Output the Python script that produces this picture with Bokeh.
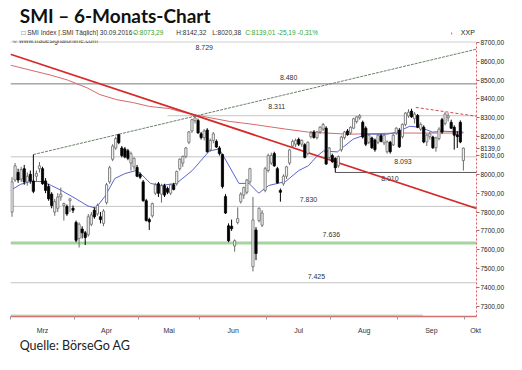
from bokeh.plotting import figure
from bokeh.layouts import column
from bokeh.models import (ColumnDataSource, Range1d, LinearAxis, FixedTicker,
                          CustomJSTickFormatter, Label, Span)
from bokeh.core.properties import value
from bokeh.embed import file_html
from bokeh.resources import INLINE

# ---------------- data ----------------
opens = [7800, 7970, 8010, 7975, 8030, 7960, 8000, 7965, 7990, 8030,
         8030, 7965, 7935, 7895, 7800, 7820, 7880, 7835, 7830, 7860,
         7820, 7745, 7660, 7710, 7690, 7680, 7735, 7810, 7790, 7775,
         7740, 7850, 7960, 8080, 8140, 8210, 8140, 8135, 8125, 8060,
         8040, 8037, 8000, 7960, 7860, 7760, 7780, 7900, 7950, 7895,
         7940, 7925, 7900, 7945, 7950, 8030, 8060, 8095, 8170, 8230,
         8285, 8285, 8215, 8195, 8235, 8130, 8180, 8175, 8140, 8105,
         7882, 7727, 7725, 7620, 7745, 7855, 7890, 7905, 7960, 7510,
         7705, 7755, 7730, 7915, 8020, 8060, 8110, 8030, 7915, 7950,
         7990, 8060, 8150, 8160, 8185, 8160, 8157, 8110, 8200, 8225,
         8195, 8225, 8240, 8245, 8090, 8100, 8085, 8045, 8130, 8195,
         8230, 8220, 8245, 8280, 8300, 8276, 8245, 8170, 8193, 8182,
         8170, 8205, 8167, 8120, 8170, 8157, 8219, 8234, 8200, 8265,
         8310, 8335, 8295, 8312, 8240, 8250, 8172, 8200, 8198, 8141,
         8190, 8290, 8270, 8300, 8276, 8250, 8210, 8276, 8073.29]
highs = [7985, 8060, 8030, 8040, 8050, 8010, 8020, 8105, 8020, 8065,
         8040, 7980, 7950, 7905, 7870, 7900, 7930, 7850, 7840, 7875,
         7835, 7755, 7745, 7725, 7700, 7790, 7800, 7825, 7845, 7800,
         7815, 7955, 8045, 8160, 8200, 8215, 8150, 8145, 8135, 8120,
         8090, 8050, 8010, 7970, 7870, 7770, 7850, 7955, 7960, 7950,
         7950, 7935, 7950, 7955, 8020, 8085, 8100, 8145, 8230, 8295,
         8320, 8295, 8225, 8240, 8245, 8190, 8225, 8185, 8150, 8110,
         7895, 7740, 7760, 7655, 7825, 7905, 7935, 7975, 8035, 7880,
         7720, 7825, 7810, 8040, 8110, 8115, 8120, 8040, 7925, 8000,
         8045, 8135, 8185, 8190, 8195, 8185, 8165, 8175, 8230, 8235,
         8230, 8255, 8272, 8255, 8145, 8110, 8090, 8100, 8205, 8230,
         8240, 8255, 8300, 8310, 8320, 8285, 8255, 8215, 8200, 8190,
         8215, 8215, 8215, 8180, 8178, 8215, 8250, 8245, 8270, 8330,
         8345, 8348, 8330, 8320, 8275, 8260, 8215, 8225, 8205, 8200,
         8250, 8300, 8330, 8325, 8290, 8260, 8230, 8286, 8142.32]
lows = [7775, 7960, 7955, 7960, 7945, 7940, 7950, 7900, 7960, 8010,
        7945, 7900, 7860, 7820, 7780, 7800, 7860, 7755, 7780, 7800,
        7795, 7640, 7612, 7660, 7625, 7670, 7725, 7765, 7780, 7740,
        7725, 7840, 7950, 8070, 8130, 8160, 8090, 8085, 8075, 8020,
        8025, 7985, 7975, 7855, 7750, 7705, 7770, 7890, 7880, 7850,
        7880, 7895, 7890, 7915, 7940, 8020, 8040, 8085, 8160, 8220,
        8270, 8215, 8185, 8180, 8115, 8120, 8165, 8140, 8100, 7925,
        7790, 7640, 7700, 7590, 7735, 7845, 7870, 7895, 7950, 7485,
        7545, 7745, 7720, 7905, 8010, 8050, 8040, 7950, 7855, 7940,
        7975, 8050, 8140, 8145, 8150, 8145, 8085, 8100, 8190, 8190,
        8185, 8215, 8230, 8050, 8080, 8060, 8010, 8035, 8120, 8185,
        8205, 8210, 8240, 8270, 8290, 8190, 8150, 8160, 8135, 8120,
        8160, 8170, 8155, 8110, 8110, 8150, 8210, 8140, 8190, 8255,
        8300, 8300, 8270, 8245, 8230, 8165, 8150, 8185, 8135, 8120,
        8180, 8215, 8260, 8280, 8240, 8131, 8140, 8165, 8020.38]
closes = [7960, 8045, 7970, 8025, 7960, 7990, 7965, 7910, 8005, 8045,
          7950, 7915, 7870, 7835, 7855, 7880, 7895, 7845, 7790, 7870,
          7810, 7650, 7735, 7690, 7665, 7775, 7785, 7775, 7835, 7760,
          7805, 7945, 8035, 8150, 8190, 8168, 8100, 8092, 8085, 8110,
          8085, 7990, 7985, 7860, 7755, 7748, 7845, 7945, 7900, 7940,
          7890, 7905, 7945, 7920, 8015, 8080, 8095, 8140, 8225, 8290,
          8300, 8220, 8195, 8230, 8120, 8180, 8215, 8145, 8110, 7935,
          7795, 7648, 7712, 7648, 7765, 7895, 7930, 7970, 8030, 7758,
          7580, 7820, 7795, 8030, 8100, 8100, 8045, 7955, 7905, 7990,
          8040, 8130, 8175, 8180, 8160, 8180, 8090, 8170, 8220, 8195,
          8225, 8250, 8265, 8055, 8140, 8068, 8035, 8094, 8198, 8224,
          8210, 8250, 8295, 8305, 8310, 8198, 8160, 8208, 8141, 8131,
          8208, 8175, 8208, 8172, 8120, 8208, 8245, 8146, 8265, 8325,
          8330, 8305, 8320, 8250, 8265, 8172, 8208, 8215, 8141, 8193,
          8240, 8224, 8320, 8310, 8245, 8208, 8200, 8172, 8139.01]

month_names = ["Mrz", "Apr", "Mai", "Jun", "Jul", "Aug", "Sep", "Okt"]
month_first_index = [0, 21, 42, 62, 84, 105, 127, 149]

level_values = [8729, 8480, 8311, 8093, 8010, 7830, 7636, 7425]
level_texts = ["8.729", "8.480", "8.311", "8.093", "8.010", "7.830", "7.636", "7.425"]
level_start_index = [-0.5, -0.5, 51, -0.5, 106, -0.5, -0.5, -0.5]

ma_slow_index = [-0.5, 12.5, 18.1, 24.6, 28.8, 34.4, 39.6, 45.1, 51.6, 54.9,
                 62.4, 71.2, 78.7, 89.7, 97.2, 110.3, 126.5, 148]
ma_slow_values = [8579, 8527, 8501, 8459, 8423, 8396, 8381, 8360, 8349, 8334,
                  8308, 8281, 8266, 8240, 8224, 8213, 8219, 8219]

ma_fast_index = [-0.5, 2.8, 6.0, 9.6, 12.9, 16.1, 20.7, 24.9, 27.5, 30.5,
                 33.7, 37.0, 40.6, 42.2, 45.4, 48.7, 53.9, 59.1, 64.7, 67.9,
                 70.2, 74.4, 77.7, 80.9, 84.2, 89.7, 94.0, 97.2, 99.8, 102.1,
                 106.7, 108.6, 111.9, 116.4, 123.0, 126.2, 130.4, 133.7, 137.9, 141.2,
                 148]
ma_fast_values = [7915, 7947, 7962, 7962, 7941, 7915, 7873, 7832, 7821, 7884,
                  7978, 8004, 8020, 8004, 7952, 7941, 7952, 8020, 8124, 8135,
                  8072, 7952, 7952, 7900, 7941, 7962, 8020, 8046, 8093, 8124,
                  8119, 8145, 8187, 8213, 8213, 8224, 8255, 8250, 8224, 8229,
                  8224]

trend_up_index = [7, 154.9]
trend_up_values = [8105, 8674]
trend_down_index = [-0.5, 154.9]
trend_down_values = [8637, 7805]
resist_index = [132.4, 154.9]
resist_values = [8355, 8302]

axis_ticks = list(range(7300, 8800, 100))

title_text = "SMI \u2013 6-Monats-Chart"
info_texts = ["\u25a1 SMI Index [.SMI  T\u00e4glich] 30.09.2016 -", "O:8073,29", "H:8142,32",
              "L:8020,38", "C:8139,01 -25,19 -0,31%"]
source_text = "Quelle: B\u00f6rseGo AG"

W = 506
HEAD_H, MAIN_H, FOOT_H = 36, 300, 18


def bare(fig):
    fig.grid.visible = False
    fig.outline_line_color = None
    fig.background_fill_color = "white"
    fig.border_fill_color = "white"
    return fig


# ---------------- header ----------------
head = bare(figure(width=W, height=HEAD_H, output_backend="svg", toolbar_location=None,
                   x_range=Range1d(0, W), y_range=Range1d(HEAD_H, 0),
                   x_axis_location=None, y_axis_location=None, min_border=0))
head.text(x=[10], y=[15], text=[title_text], text_font=value("Lato"),
          text_font_style="bold", text_font_size="19px", text_color="#111111",
          text_baseline="middle")
info_x = [12, 133, 180, 219, 255]
info_colors = ["#333333", "#2fa82f", "#333333", "#333333", "#2fa82f"]
head.text(x=info_x, y=[31.5] * len(info_x), text=info_texts, text_color=info_colors,
          text_font=value("Liberation Sans"), text_font_size="6.5px", text_baseline="middle")
head.text(x=[489], y=[31.5], text=["XXP"], text_font=value("Liberation Sans"),
          text_font_size="7px", text_color="#222222", text_baseline="middle")
head.segment(x0=[479], x1=[479], y0=[32], y1=[HEAD_H], line_color="#e05a5a", line_dash="2 2")

# ---------------- main chart ----------------
X0, X1 = -0.5, 152.3
Y0, Y1 = 7246, 8710
p = bare(figure(width=W, height=MAIN_H, output_backend="svg", toolbar_location=None,
                x_range=Range1d(X0, X1), y_range=Range1d(Y0, Y1),
                x_axis_location=None, y_axis_location=None,
                min_border_left=10, min_border_right=27,
                min_border_top=4, min_border_bottom=16))

n = len(closes)
up = [c >= o for o, c in zip(opens, closes)]
src = ColumnDataSource(dict(
    x=list(range(n)), o=opens, h=highs, l=lows, c=closes,
    top=[max(o, c) for o, c in zip(opens, closes)],
    bot=[min(o, c) for o, c in zip(opens, closes)],
    fill=["#f4f4f4" if u else "black" for u in up],
    edge=["#6a6a6a" if u else "black" for u in up],
))

# separator line at the top of the chart
p.add_layout(Span(location=Y1 - 8, dimension="width", line_color="#cfcfcf", line_width=1))

# level lines
lvl_colors = ["#c8c8c8", "#7a7a7a", "#c4c4c4", "#c4c4c4", "#5a5a5a", "#c4c4c4", "#a6d4a0", "#c4c4c4"]
lvl_widths = [1, 1, 1, 1, 1, 1, 3, 1]
p.segment(x0=level_start_index, x1=[X1 + 3] * len(level_values),
          y0=level_values, y1=level_values, line_color=lvl_colors, line_width=lvl_widths)

# level labels
lvl_label_x = [63, 90.7, 86.8, 128.2, 123.9, 97.2, 104.7, 99.8]
lvl_label_dy = [11, -6, -9, 5, 6, -7, -8, -6]
p.text(x=lvl_label_x, y=level_values, text=level_texts, y_offset=lvl_label_dy,
       text_font=value("Liberation Sans"), text_font_size="7px", text_color="#333333",
       text_align="center", text_baseline="middle")

# bottom band
p.quad(left=[-0.5], right=[134.7], bottom=[Y0 + 1], top=[Y0 + 11],
       fill_color="#c6dcc0", line_color=None)

# moving averages
p.line(ma_slow_index, ma_slow_values, line_color="#d46a6a", line_width=1)
p.line(ma_fast_index, ma_fast_values, line_color="#5865d0", line_width=1)

# trend lines
p.line(trend_up_index, trend_up_values, line_color="#6a806a", line_width=1, line_dash="3 1")
p.line(trend_down_index, trend_down_values, line_color="#d42a2a", line_width=1.8)
p.line(resist_index, resist_values, line_color="#d44a4a", line_width=1, line_dash="3 2")

# candles
p.segment(x0="x", x1="x", y0="l", y1="h", line_color="edge", line_width=1, source=src)
p.vbar(x="x", width=0.72, top="top", bottom="bot", fill_color="fill",
       line_color="edge", line_width=0.8, source=src)

# copyright line inside the chart
p.add_layout(Label(x=2, y=276, x_units="screen", y_units="screen",
                   text="\u00a9 www.tradesignalonline.com", text_font="Liberation Sans",
                   text_font_size="6.5px", text_color="#444444", text_baseline="middle"))

# x axis (months)
bounds = [s - 0.5 for s in month_first_index]
centers = [(month_first_index[k] + month_first_index[k + 1] - 1) / 2 for k in range(7)]
centers.append(month_first_index[7] + 3)
xaxis = LinearAxis(ticker=FixedTicker(ticks=centers, minor_ticks=bounds),
                   major_label_overrides={float(c): m for c, m in zip(centers, month_names)})
xaxis.axis_line_color = "#d47070"
xaxis.axis_line_width = 1.5
xaxis.major_tick_line_color = None
xaxis.minor_tick_line_color = "#999999"
xaxis.minor_tick_in = 0
xaxis.minor_tick_out = 3
xaxis.major_label_standoff = 4
xaxis.major_label_text_font = "Liberation Sans"
xaxis.major_label_text_font_size = "7px"
xaxis.major_label_text_color = "#333333"
p.add_layout(xaxis, "below")

# y axis on the right (with the last price marker as an extra tick)
yaxis = LinearAxis(ticker=FixedTicker(ticks=axis_ticks + [closes[-1]]),
                   formatter=CustomJSTickFormatter(args=dict(last=closes[-1]), code="""
                       if (Math.abs(tick - last) < 0.001) { return last.toFixed(1).replace('.', ','); }
                       return tick.toFixed(2).replace('.', ',');
                   """))
yaxis.axis_line_color = "#e05a5a"
yaxis.axis_line_dash = "2 2"
yaxis.major_tick_line_color = "#aa6666"
yaxis.major_tick_in = 0
yaxis.major_tick_out = 3
yaxis.minor_tick_line_color = None
yaxis.major_label_standoff = 1
yaxis.major_label_text_font = "Liberation Sans"
yaxis.major_label_text_font_size = "6.5px"
yaxis.major_label_text_color = "#222222"
p.add_layout(yaxis, "right")

# ---------------- footer ----------------
foot = bare(figure(width=W, height=FOOT_H, output_backend="svg", toolbar_location=None,
                   x_range=Range1d(0, W), y_range=Range1d(FOOT_H, 0),
                   x_axis_location=None, y_axis_location=None, min_border=0))
foot.text(x=[10], y=[9], text=[source_text], text_font=value("Lato"),
          text_font_size="12.5px", text_color="#222222", text_baseline="middle")

layout = column(head, p, foot, spacing=0)
open("out.html", "w").write(file_html(layout, INLINE))
